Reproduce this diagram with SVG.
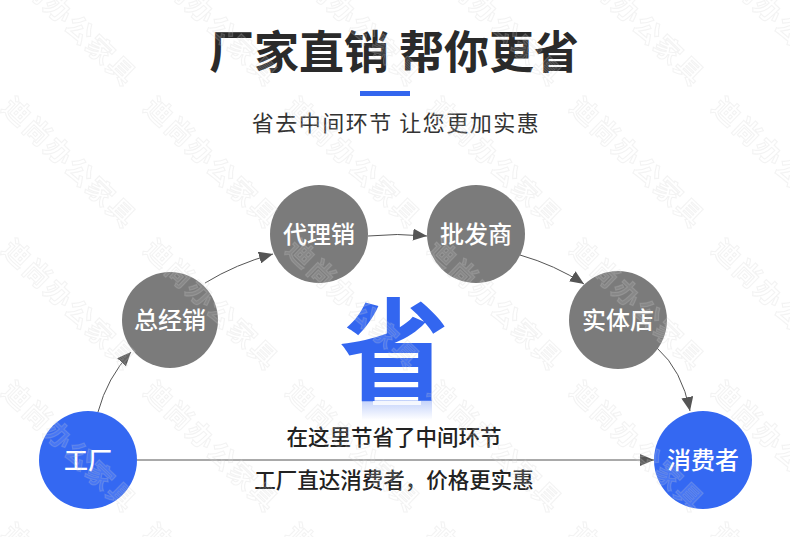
<svg xmlns="http://www.w3.org/2000/svg" width="790" height="537" viewBox="0 0 790 537">
  <style>
    .cjk { font-family: "Noto Sans CJK SC", "Liberation Sans", sans-serif; }
    .node-gray { fill: #7b7b7b; }
    .node-blue { fill: #3468f2; }
    .label { fill: #ffffff; font-size: 24px; font-weight: 500; text-anchor: middle; }
    .conn { fill: none; stroke: #555555; stroke-width: 1; }
    .mid { fill: #222222; font-size: 21.5px; font-weight: 500; text-anchor: middle; }
    .wm { font-size: 27px; font-weight: 700; letter-spacing: 2px; text-anchor: middle; fill: #ffffff; fill-opacity: 0.1; stroke: #c8c8c8; stroke-opacity: 0.22; stroke-width: 1.1; }
  </style>
  <defs>
    <marker id="arrow" viewBox="0 0 14 12" refX="14" refY="6" markerWidth="14" markerHeight="12" markerUnits="userSpaceOnUse" orient="auto">
      <path d="M0,0 L14,6 L0,12 Z" fill="#555555"/>
    </marker>
    <linearGradient id="refl" x1="0" y1="400" x2="0" y2="420" gradientUnits="userSpaceOnUse">
      <stop offset="0" stop-color="#3366f0" stop-opacity="0.3"/>
      <stop offset="1" stop-color="#3366f0" stop-opacity="0"/>
    </linearGradient>
    <pattern id="wmPat" patternUnits="userSpaceOnUse" x="0" y="0" width="142" height="142">
      <text class="cjk wm" transform="translate(69,21) rotate(44)" x="0" y="9">迪尚办公家具</text>
      <text class="cjk wm" transform="translate(69,163) rotate(44)" x="0" y="9">迪尚办公家具</text>
    </pattern>
  </defs>

  <rect x="0" y="0" width="790" height="537" fill="#ffffff"/>

  <g id="title">
    <text class="cjk" x="394" y="69" font-size="45" font-weight="700" fill="#2a2a2a" text-anchor="middle">厂家直销 帮你更省</text>
    <rect x="360" y="91" width="50" height="5" fill="#3366ee"/>
    <text class="cjk" x="396" y="131" font-size="22" letter-spacing="1.5" fill="#333333" text-anchor="middle">省去中间环节 让您更加实惠</text>
  </g>

  <g id="connectors">
    <path class="conn" d="M98,412 Q107,378 131,352" marker-end="url(#arrow)"/>
    <path class="conn" d="M205,283 Q236,264 273,254" marker-end="url(#arrow)"/>
    <path class="conn" d="M368,236 Q397,233 427,236" marker-end="url(#arrow)"/>
    <path class="conn" d="M520,255 Q555,265 584,284" marker-end="url(#arrow)"/>
    <path class="conn" d="M657,348 Q682,370 690,411" marker-end="url(#arrow)"/>
    <path class="conn" d="M137,460 L654,460" marker-end="url(#arrow)"/>
  </g>

  <g id="node-factory">
    <circle class="node-blue" cx="88" cy="460" r="49"/>
    <text class="cjk label" x="88" y="469">工厂</text>
  </g>
  <g id="node-general">
    <circle class="node-gray" cx="170" cy="320" r="48"/>
    <text class="cjk label" x="170" y="329">总经销</text>
  </g>
  <g id="node-agent">
    <circle class="node-gray" cx="319" cy="234" r="49"/>
    <text class="cjk label" x="319" y="243">代理销</text>
  </g>
  <g id="node-wholesale">
    <circle class="node-gray" cx="476" cy="234" r="49"/>
    <text class="cjk label" x="476" y="243">批发商</text>
  </g>
  <g id="node-store">
    <circle class="node-gray" cx="618" cy="320" r="49"/>
    <text class="cjk label" x="618" y="329">实体店</text>
  </g>
  <g id="node-consumer">
    <circle class="node-blue" cx="703" cy="460" r="49"/>
    <text class="cjk label" x="703" y="469">消费者</text>
  </g>

  <g id="save-mark">
    <text class="cjk" x="394" y="391" font-size="110" font-weight="700" fill="#3366f0" text-anchor="middle">省</text>
    <rect x="362" y="400" width="70" height="20" fill="url(#refl)"/>
    <rect x="373" y="401" width="48" height="4" fill="#ffffff" fill-opacity="0.8"/>
  </g>

  <g id="middle-text">
    <text class="cjk mid" x="394" y="445">在这里节省了中间环节</text>
    <text class="cjk mid" x="394" y="488">工厂直达消费者，价格更实惠</text>
  </g>

  <rect id="watermark" x="0" y="0" width="790" height="537" fill="url(#wmPat)"/>
</svg>
